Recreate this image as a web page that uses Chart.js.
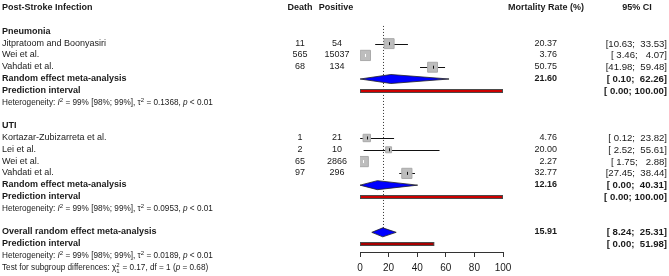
<!DOCTYPE html>
<html>
<head>
<meta charset="utf-8">
<script src="https://cdn.jsdelivr.net/npm/chart.js@4"></script>
<style>
  html, body { margin: 0; padding: 0; background: #fff; }
  canvas { display: block; }
</style>
</head>
<body>
<canvas id="forest" width="669" height="276"></canvas>
<script>
// study level data
const pneuStudies = ["Jitpratoom and Boonyasiri", "Wei et al.", "Vahdati et al."];
const pneuDeath = [11, 565, 68];
const pneuPositive = [54, 15037, 134];
const pneuRate = [20.37, 3.76, 50.75];
const pneuLower = [10.63, 3.46, 41.98];
const pneuUpper = [33.53, 4.07, 59.48];
const pneuWeight = [16.5, 17.5, 16.3];

const utiStudies = ["Kortazar-Zubizarreta et al.", "Lei et al.", "Wei et al.", "Vahdati et al."];
const utiDeath = [1, 2, 65, 97];
const utiPositive = [21, 10, 2866, 296];
const utiRate = [4.76, 20.00, 2.27, 32.77];
const utiLower = [0.12, 2.52, 1.75, 27.45];
const utiUpper = [23.82, 55.61, 2.88, 38.44];
const utiWeight = [9.2, 5.9, 17.4, 17.2];

// pooled results: pneumonia, UTI, overall
const pooledRate = [21.60, 12.16, 15.91];
const pooledLower = [0.10, 0.00, 8.24];
const pooledUpper = [62.26, 40.31, 25.31];
const predLower = [0.00, 0.00, 0.00];
const predUpper = [100.00, 100.00, 51.98];
const tau2 = ["0.1368", "0.0953", "0.0189"];
const i2Text = "99% [98%; 99%]";

const xTicks = [0, 20, 40, 60, 80, 100];

// row layout (one text line per row)
const ROW = { header: 0, pneu: 2, pneuFirst: 3, uti: 10, utiFirst: 11, overall: 19 };

const fmt = v => v.toFixed(2);
// padded like R's formatCI: lower to 5 chars, upper to 6 chars
const ci = (lo, hi) => "[" + fmt(lo).padStart(5) + "; " + fmt(hi).padStart(6) + "]";

const studies = [];
pneuStudies.forEach((s, i) => studies.push({ row: ROW.pneuFirst + i, name: s, death: pneuDeath[i], pos: pneuPositive[i],
    rate: pneuRate[i], lo: pneuLower[i], hi: pneuUpper[i], w: pneuWeight[i] }));
utiStudies.forEach((s, i) => studies.push({ row: ROW.utiFirst + i, name: s, death: utiDeath[i], pos: utiPositive[i],
    rate: utiRate[i], lo: utiLower[i], hi: utiUpper[i], w: utiWeight[i] }));

const pooledRows = [ROW.pneuFirst + 3, ROW.utiFirst + 4, ROW.overall];

const TXT = "#1a1a1a";
const FONT = '"Liberation Sans", Arial, sans-serif';

function richText(ctx, x, y, parts) {
    ctx.textAlign = "left";
    ctx.textBaseline = "middle";
    for (const p of parts) {
        if (p.supsub) {
            ctx.font = "6px " + FONT;
            ctx.fillText(p.sup, x, y - 3);
            ctx.fillText(p.sub, x, y + 3);
            x += ctx.measureText(p.sup).width + 0.5;
            continue;
        }
        const size = p.sup ? 6 : 8.2;
        ctx.font = (p.italic ? "italic " : "") + size + "px " + FONT;
        ctx.fillText(p.t, x, p.sup ? y - 3 : y);
        x += ctx.measureText(p.t).width;
    }
}

const forestPlugin = {
    id: "forest",
    beforeDatasetsDraw(chart) {
        const { ctx, scales: { x, y } } = chart;
        ctx.save();
        // reference line at overall estimate
        ctx.strokeStyle = "#333";
        ctx.lineWidth = 1;
        ctx.setLineDash([1, 2]);
        ctx.beginPath();
        const rx = Math.round(x.getPixelForValue(pooledRate[2])) + 0.5;
        ctx.moveTo(rx, y.getPixelForValue(1.5));
        ctx.lineTo(rx, y.getPixelForValue(ROW.overall));
        ctx.stroke();
        ctx.setLineDash([]);

        // confidence intervals
        ctx.strokeStyle = "#111";
        studies.forEach(s => {
            const py = Math.round(y.getPixelForValue(s.row)) + 0.5;
            ctx.beginPath();
            ctx.moveTo(x.getPixelForValue(s.lo), py);
            ctx.lineTo(x.getPixelForValue(s.hi), py);
            ctx.stroke();
        });

        // prediction intervals
        pooledRows.forEach((r, i) => {
            const py = Math.round(y.getPixelForValue(r + 1));
            const x1 = x.getPixelForValue(predLower[i]);
            const x2 = x.getPixelForValue(predUpper[i]);
            ctx.fillStyle = "#4a4a4a";
            ctx.fillRect(x1, py - 2, x2 - x1, 4);
            ctx.fillStyle = i === 2 ? "#a80000" : "#cc0000";
            ctx.fillRect(x1 + 1, py - 1, x2 - x1 - 2, 2);
        });

        // pooled diamonds
        pooledRows.forEach((r, i) => {
            const py = y.getPixelForValue(r);
            ctx.beginPath();
            ctx.moveTo(x.getPixelForValue(pooledLower[i]), py);
            ctx.lineTo(x.getPixelForValue(pooledRate[i]), py - 4.5);
            ctx.lineTo(x.getPixelForValue(pooledUpper[i]), py);
            ctx.lineTo(x.getPixelForValue(pooledRate[i]), py + 4.5);
            ctx.closePath();
            ctx.fillStyle = "#0000ff";
            ctx.fill();
            ctx.strokeStyle = "#222";
            ctx.lineWidth = 0.8;
            ctx.stroke();
        });
        ctx.restore();
    },
    afterDatasetsDraw(chart) {
        const { ctx, scales: { x, y } } = chart;
        ctx.save();
        studies.forEach(s => {
            const px = Math.round(x.getPixelForValue(s.rate)) + 0.5;
            const py = y.getPixelForValue(s.row);
            const narrow = x.getPixelForValue(s.hi) - x.getPixelForValue(s.lo) < 5;
            ctx.strokeStyle = narrow ? "#fff" : "#111";
            ctx.lineWidth = 1;
            ctx.beginPath();
            ctx.moveTo(px, py - 1.5);
            ctx.lineTo(px, py + 1.5);
            ctx.stroke();
        });
        ctx.restore();
    },
    afterDraw(chart) {
        const { ctx, scales: { y } } = chart;
        const ry = r => Math.round(y.getPixelForValue(r));
        const txt = (t, px, r, align, bold, size) => {
            ctx.font = (bold ? "bold " : "") + (size || 9) + "px " + FONT;
            ctx.textAlign = align;
            ctx.textBaseline = "middle";
            ctx.fillText(t, px, ry(r));
        };
        ctx.save();
        ctx.fillStyle = TXT;

        // headers
        txt("Post-Stroke Infection", 2, ROW.header, "left", true);
        txt("Death", 300, ROW.header, "center", true);
        txt("Positive", 336, ROW.header, "center", true);
        txt("Mortality Rate (%)", 546, ROW.header, "center", true);
        txt("95% CI", 637, ROW.header, "center", true);

        txt("Pneumonia", 2, ROW.pneu, "left", true);
        txt("UTI", 2, ROW.uti, "left", true);

        studies.forEach(s => {
            txt(s.name, 2, s.row, "left", false);
            txt(String(s.death), 300, s.row, "center", false);
            txt(String(s.pos), 337, s.row, "center", false);
            txt(fmt(s.rate), 557, s.row, "right", false);
            txt(ci(s.lo, s.hi), 667, s.row, "right", false, 9.6);
        });

        pooledRows.forEach((r, i) => {
            txt(i === 2 ? "Overall random effect meta-analysis" : "Random effect meta-analysis", 2, r, "left", true);
            txt(fmt(pooledRate[i]), 557, r, "right", true);
            txt(ci(pooledLower[i], pooledUpper[i]), 667, r, "right", true, 9.6);
            txt("Prediction interval", 2, r + 1, "left", true);
            txt(ci(predLower[i], predUpper[i]), 667, r + 1, "right", true, 9.6);
            richText(ctx, 2, ry(r + 2), [
                { t: "Heterogeneity: " }, { t: "I", italic: true }, { t: "2", sup: true },
                { t: " = " + i2Text + ", \u03c4" }, { t: "2", sup: true },
                { t: " = " + tau2[i] + ", " }, { t: "p", italic: true }, { t: " < 0.01" }
            ]);
        });

        richText(ctx, 2, ry(ROW.overall + 3), [
            { t: "Test for subgroup differences: \u03c7" }, { supsub: true, sup: "2", sub: "1" },
            { t: " = 0.17, df = 1 (" }, { t: "p", italic: true }, { t: " = 0.68)" }
        ]);
        ctx.restore();
    }
};

const ctx = document.getElementById("forest");

new Chart(ctx, {
    type: "scatter",
    data: {
        datasets: [{
            data: studies.map(s => ({ x: s.rate, y: s.row })),
            pointStyle: "rect",
            pointRadius: studies.map(s => 2.45 * Math.sqrt(s.w) / Math.SQRT2),
            backgroundColor: "#bdbdbd",
            borderColor: "#aaaaaa",
            borderWidth: 1
        }]
    },
    options: {
        responsive: false,
        devicePixelRatio: 1,
        animation: false,
        events: [],
        layout: { padding: { left: 360, right: 166, top: 4, bottom: 0 } },
        scales: {
            x: {
                type: "linear",
                min: 0,
                max: 100,
                afterFit: s => { s.height = 24; },
                afterBuildTicks: s => { s.ticks = xTicks.map(v => ({ value: v })); },
                ticks: {
                    color: TXT,
                    padding: 5,
                    font: { size: 10, family: FONT }
                },
                grid: {
                    drawOnChartArea: false,
                    drawTicks: true,
                    tickLength: 5,
                    color: "#333"
                },
                border: { display: true, color: "#333" }
            },
            y: {
                type: "linear",
                display: false,
                reverse: true,
                min: 0,
                max: 248 / 12
            }
        },
        plugins: {
            legend: { display: false },
            tooltip: { enabled: false }
        }
    },
    plugins: [forestPlugin]
});
</script>
</body>
</html>
